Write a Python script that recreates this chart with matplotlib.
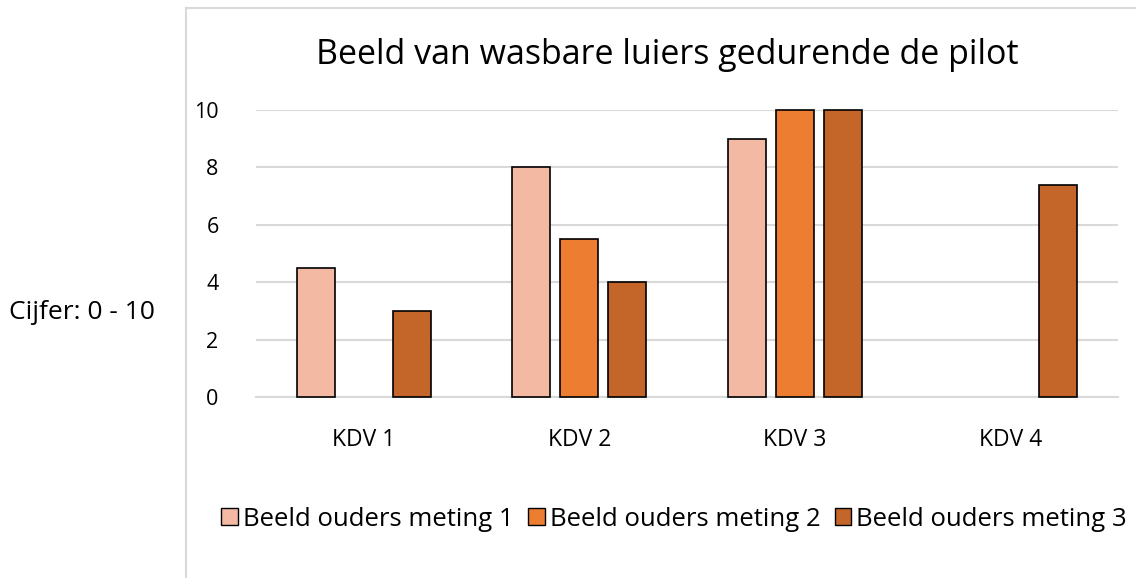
import matplotlib.pyplot as plt
import numpy as np
from matplotlib.lines import Line2D
from matplotlib.patches import Patch

categories = ['KDV 1', 'KDV 2', 'KDV 3', 'KDV 4']
meting1 = [4.5, 8, 9, np.nan]
meting2 = [np.nan, 5.5, 10, np.nan]
meting3 = [3, 4, 10, 7.4]
series_names = ['Beeld ouders meting 1', 'Beeld ouders meting 2', 'Beeld ouders meting 3']
colors = ['#F4B9A3', '#ED7D31', '#C4652A']

plt.rcParams['font.family'] = ['Open Sans', 'DejaVu Sans']

fig = plt.figure(figsize=(11.36, 5.78), dpi=100)
ax = fig.add_axes([0.2254, 0.3131, 0.7588, 0.4966])

x = np.arange(len(categories))
width = 0.176
step = 0.223
for i, vals in enumerate([meting1, meting2, meting3]):
    ax.bar(x + (i - 1) * step, vals, width, color=colors[i], edgecolor='black',
           linewidth=1.2, zorder=3, clip_on=False)

ax.set_xlim(-0.5, 3.5)
ax.set_ylim(0, 10)
ax.set_yticks([0, 2, 4, 6, 8, 10])
ax.set_xticks(x)
ax.set_xticklabels(categories)
ax.yaxis.grid(True, color='#D9D9D9', linewidth=1.5, zorder=0)
ax.set_axisbelow(True)
for s in ['top', 'right', 'left']:
    ax.spines[s].set_visible(False)
ax.spines['bottom'].set_color('#D9D9D9')
ax.spines['bottom'].set_linewidth(1.5)
ax.tick_params(axis='both', length=0, colors='black')
ax.tick_params(axis='y', pad=27, labelsize=15.5)
ax.tick_params(axis='x', pad=22, labelsize=16.5)

fig.text(0.5876, 0.905, 'Beeld van wasbare luiers gedurende de pilot',
         ha='center', va='center', fontsize=24.5)
fig.text(0.0075, 0.46, 'Cijfer: 0 - 10', ha='left', va='center', fontsize=19)

# chart area border (left and top edges visible)
fig.add_artist(Line2D([0.1637, 0.1637], [0.0, 0.986], color='#D9D9D9', linewidth=1.5))
fig.add_artist(Line2D([0.1637, 1.0], [0.986, 0.986], color='#D9D9D9', linewidth=1.5))

handles = [Patch(facecolor=c, edgecolor='black', linewidth=1.0) for c in colors]
fig.legend(handles, series_names, loc='center', bbox_to_anchor=(0.5935, 0.102),
           ncol=3, frameon=False, fontsize=18.5, handlelength=0.65, handleheight=0.65,
           handletextpad=0.2, columnspacing=0.55)

fig.savefig('out.png', dpi=100)
